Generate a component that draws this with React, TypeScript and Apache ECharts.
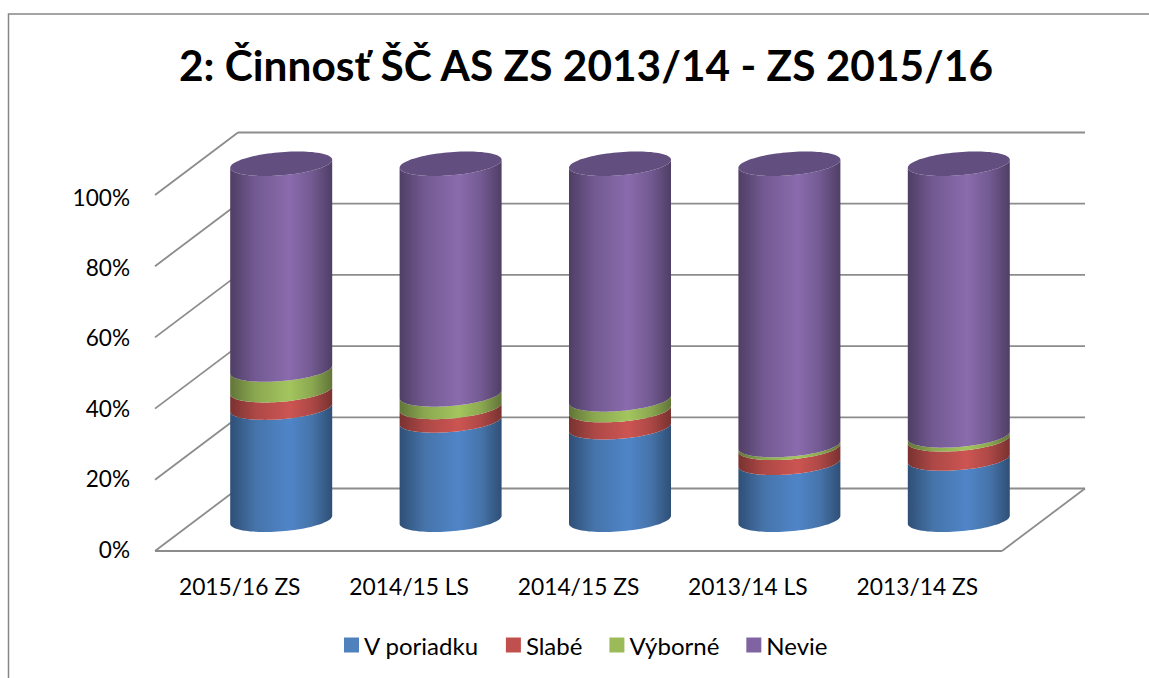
import React, { useEffect, useRef } from "react";
import * as echarts from "echarts";

const titleText = "2: Činnosť ŠČ AS ZS 2013/14 - ZS 2015/16";
const categories = ["2015/16 ZS", "2014/15 LS", "2014/15 ZS", "2013/14 LS", "2013/14 ZS"];
const vPoriadku = [31.5, 27.9, 26.0, 16.0, 17.2];
const slabe = [4.9, 3.8, 4.8, 4.2, 5.4];
const vyborne = [5.8, 3.5, 3.0, 0.8, 1.1];
const nevie = [57.8, 64.8, 66.2, 79.0, 76.3];
const wallTicks = [0, 20, 40, 60, 80, 100];

const seriesDefs = [
  { name: "V poriadku", values: vPoriadku, color: "#4f81bd", edge: "#2f4f76", shade: "#4674aa", mid: "#4f85c8" },
  { name: "Slabé", values: slabe, color: "#c0504d", edge: "#793230", shade: "#ad4846", mid: "#cc5552" },
  { name: "Výborné", values: vyborne, color: "#9bbb59", edge: "#617538", shade: "#8ba850", mid: "#a3c55e" },
  { name: "Nevie", values: nevie, color: "#8064a2", edge: "#4f3e65", shade: "#735a92", mid: "#8a6bad" },
];

const DEPTH_X = 83;
const DEPTH_Y = -62.5;
const RX = 51;
const RY = 11.6;
const SHEAR = 4;
const STEPS = 48;

function ellipsePoint(cx: number, cy: number, t: number) {
  return [cx + RX * Math.cos(t), cy + RY * Math.sin(t) - SHEAR * Math.cos(t)];
}

function lowerArc(cx: number, cy: number, reverse: boolean) {
  const pts: number[][] = [];
  for (let i = 0; i <= STEPS; i++) {
    const k = reverse ? STEPS - i : i;
    pts.push(ellipsePoint(cx, cy, Math.PI * (k / STEPS)));
  }
  return pts;
}

export default function App() {
  const ref = useRef<HTMLDivElement>(null);
  useEffect(() => {
    const chart = echarts.init(ref.current!, undefined, { renderer: "svg" });
    const cum = categories.map(() => 0);
    const lastIndex = seriesDefs.length - 1;

    const cylinderSeries = seriesDefs.map((def, sIdx) => {
      const data = def.values.map((v, i) => {
        const start = cum[i];
        cum[i] += v;
        return [i, start, cum[i]];
      });
      const fill = new echarts.graphic.LinearGradient(0, 0, 1, 0, [
        { offset: 0, color: def.edge },
        { offset: 0.25, color: def.shade },
        { offset: 0.58, color: def.mid },
        { offset: 0.8, color: def.shade },
        { offset: 1, color: def.edge },
      ]);
      return {
        type: "custom",
        name: def.name,
        itemStyle: { color: def.color },
        data,
        z: 5 + sIdx,
        renderItem: (_p: any, api: any) => {
          const a = api.coord([api.value(0), api.value(1)]);
          const b = api.coord([api.value(0), api.value(2)]);
          const cx = a[0] + DEPTH_X / 2;
          const y0 = a[1] + DEPTH_Y / 2;
          const y1 = b[1] + DEPTH_Y / 2;
          const children: any[] = [
            {
              type: "polygon",
              shape: { points: [...lowerArc(cx, y0, false), ...lowerArc(cx, y1, true)] },
              style: { fill },
            },
          ];
          if (sIdx === lastIndex) {
            const top: number[][] = [];
            for (let i = 0; i < STEPS * 2; i++) top.push(ellipsePoint(cx, y1, (Math.PI * i) / STEPS));
            children.push({ type: "polygon", shape: { points: top }, style: { fill: "#634e80" } });
          }
          return { type: "group", children };
        },
      };
    });

    const frameSeries = {
      type: "custom",
      name: "frame",
      silent: true,
      z: 1,
      data: wallTicks.map((t) => [0, t]),
      renderItem: (params: any, api: any) => {
        const cs = params.coordSys;
        const v = api.value(1);
        const y = api.coord([0, v])[1];
        const left = cs.x;
        const right = cs.x + cs.width;
        const lineStyle = { stroke: "#8c8c8c", lineWidth: 1.8, fill: "none" };
        const children: any[] = [
          { type: "line", shape: { x1: left, y1: y, x2: left + DEPTH_X, y2: y + DEPTH_Y }, style: lineStyle },
          { type: "line", shape: { x1: left + DEPTH_X, y1: y + DEPTH_Y, x2: right + DEPTH_X, y2: y + DEPTH_Y }, style: lineStyle },
        ];
        if (v === 0) {
          children.push({ type: "line", shape: { x1: right, y1: y, x2: right + DEPTH_X, y2: y + DEPTH_Y }, style: lineStyle });
          children.push({ type: "line", shape: { x1: left, y1: y, x2: right, y2: y }, style: lineStyle });
        }
        return { type: "group", children };
      },
    };

    chart.setOption({
      animation: false,
      backgroundColor: "#ffffff",
      textStyle: { fontFamily: "Lato" },
      title: {
        text: titleText,
        left: 179,
        top: 43,
        padding: 0,
        textStyle: { fontFamily: "Lato", fontWeight: "bold", fontSize: 42.4, color: "#000000" },
      },
      legend: {
        data: seriesDefs.map((d) => d.name),
        left: 344,
        top: 633,
        padding: 0,
        itemGap: 27,
        itemWidth: 15,
        itemHeight: 15,
        icon: "rect",
        textStyle: { fontFamily: "Lato", fontSize: 24, color: "#000000" },
      },
      grid: [
        { left: 155, right: 147, top: 195, bottom: 127 },
        { left: 155, right: 147, top: 197, bottom: 129 },
      ],
      xAxis: [
        {
          type: "category",
          data: categories,
          axisLine: { show: false },
          axisTick: { show: false },
          axisLabel: { fontFamily: "Lato", fontSize: 22.8, color: "#000000", margin: 23, interval: 0 },
        },
        { type: "category", gridIndex: 1, data: categories, show: false },
      ],
      yAxis: [
        {
          type: "value",
          min: 0,
          max: 100,
          interval: 20,
          axisLine: { show: false },
          axisTick: { show: false },
          splitLine: { show: false },
          axisLabel: { show: false },
        },
        {
          type: "value",
          gridIndex: 1,
          min: 0,
          max: 100,
          interval: 20,
          axisLine: { show: false },
          axisTick: { show: false },
          splitLine: { show: false },
          axisLabel: { fontFamily: "Lato", fontSize: 22.6, color: "#000000", margin: 25, formatter: "{value}%" },
        },
      ],
      series: [frameSeries, ...cylinderSeries],
      graphic: [
        {
          type: "polyline",
          silent: true,
          shape: { points: [[8.5, 678], [8.5, 14], [1149, 14]] },
          style: { stroke: "#868686", lineWidth: 1.5, fill: "none" },
        },
      ],
    });
    return () => chart.dispose();
  }, []);
  return <div ref={ref} style={{ position: "fixed", left: 0, top: 0, width: 1149, height: 678 }} />;
}
